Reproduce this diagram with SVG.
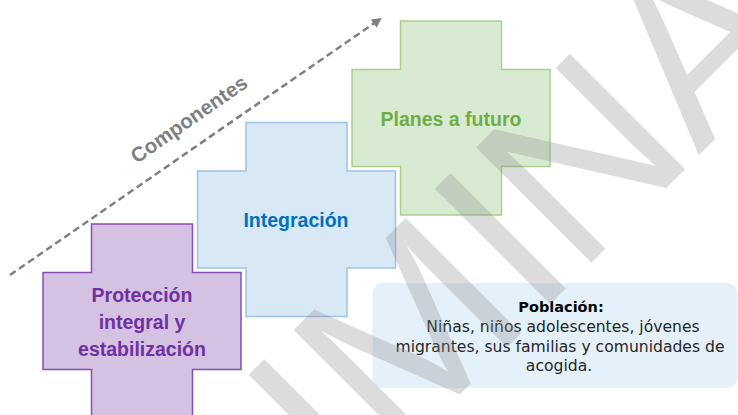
<svg xmlns="http://www.w3.org/2000/svg" width="738" height="415" viewBox="0 0 738 415">
  <defs>
    <path id="cross" d="M-50.5,-97 H50.5 V-48.5 H99 V48.5 H50.5 V97 H-50.5 V48.5 H-99 V-48.5 H-50.5 Z"/>
    <marker id="arrowhead" viewBox="0 0 10 10" refX="9" refY="5" markerWidth="4" markerHeight="4" orient="auto" markerUnits="strokeWidth">
      <path d="M0,0 L10,5 L0,10 Z" fill="#7f7f7f"/>
    </marker>
  </defs>
  <style>
    .lbl { font-family: "Liberation Sans", Arial, sans-serif; font-weight: bold; font-size: 19.5px; text-anchor: middle; }
    .pop { font-family: "DejaVu Sans", Verdana, sans-serif; font-size: 15.6px; text-anchor: middle; fill: #262626; }
    .popb { font-family: "DejaVu Sans", Verdana, sans-serif; font-size: 14.5px; font-weight: bold; text-anchor: middle; fill: #000000; }
    .wm { font-family: "Liberation Sans", Arial, sans-serif; font-size: 237px; fill: #8c8c8c; fill-opacity: 0.3; }
  </style>
  <rect width="738" height="415" fill="#ffffff"/>

  <g id="connectors">
    <line x1="10" y1="275" x2="381" y2="18.5" stroke="#7f7f7f" stroke-width="2.5" stroke-dasharray="7 4" marker-end="url(#arrowhead)"/>
    <text x="193" y="125" transform="rotate(-34.7 193 125)" font-family="'Liberation Sans', Arial, sans-serif" font-weight="bold" font-size="20.5" fill="#7f7f7f" text-anchor="middle">Componentes</text>
  </g>

  <g id="node-planes">
    <use href="#cross" transform="translate(451 118)" fill="#d9ead3" stroke="#a9d18e" stroke-width="1.5"/>
    <text class="lbl" x="451" y="125.7" fill="#70ad47">Planes a futuro</text>
  </g>

  <g id="node-integracion">
    <use href="#cross" transform="translate(296.5 219.5)" fill="#d9e8f5" stroke="#9dc3e6" stroke-width="1.5"/>
    <text class="lbl" x="296" y="227.3" fill="#0070c0">Integración</text>
  </g>

  <g id="node-proteccion">
    <use href="#cross" transform="translate(142 321)" fill="#d5c1e2" stroke="#8a4cb5" stroke-width="1.5"/>
    <text class="lbl" x="142" y="301.5" fill="#7030a0">Protección</text>
    <text class="lbl" x="142" y="329" fill="#7030a0">integral y</text>
    <text class="lbl" x="142" y="356" fill="#7030a0">estabilización</text>
  </g>

  <g id="node-poblacion">
    <rect x="372.5" y="283" width="365" height="105" rx="11" ry="11" fill="#e4f1fa"/>
    <text class="popb" x="561" y="312">Población:</text>
    <text class="pop" x="563" y="332">Niñas, niños adolescentes, jóvenes</text>
    <text class="pop" x="560" y="351.5">migrantes, sus familias y comunidades de</text>
    <text class="pop" x="559" y="371.3">acogida.</text>
  </g>

  <g id="watermark">
    <text class="wm" transform="rotate(-45)" x="-729.8 -571.8 -400.8 -242.8 -111 -45.1 152.3 213 384 542" y="604">PRELIMINAR</text>
  </g>
</svg>
